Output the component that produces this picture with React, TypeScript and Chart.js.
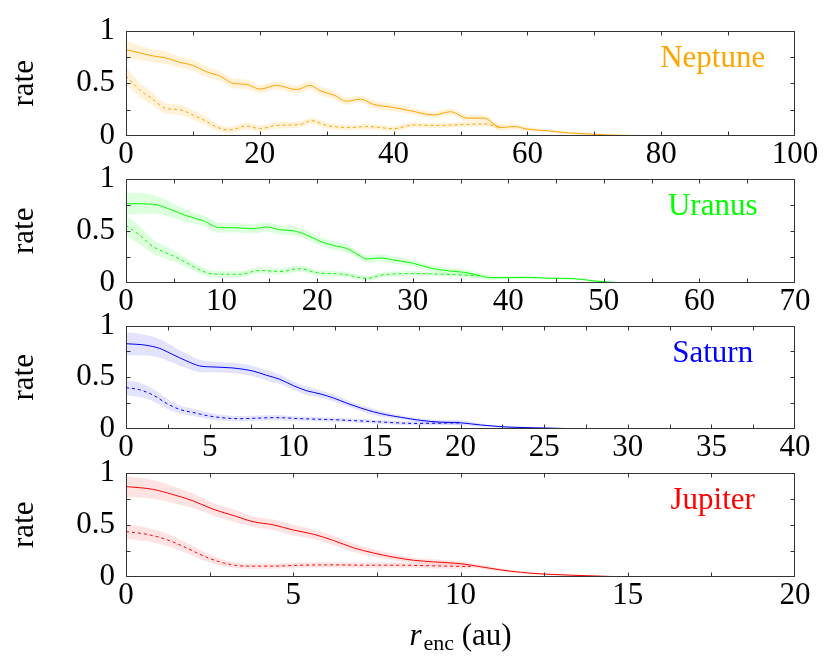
import React, { useEffect, useRef } from 'react';
import { Chart, registerables } from 'chart.js';

Chart.register(...registerables);

const FONT = '"Liberation Serif", "DejaVu Serif", serif';

// ---------- data ----------
const PANEL_NAMES = ['Neptune', 'Uranus', 'Saturn', 'Jupiter'];
const X_MAX = [100, 70, 40, 20];
const X_MAJOR = [20, 10, 5, 5];
const X_MINOR = [10, 5, 2.5, 2.5];
const Y_TICKS = [0, 0.25, 0.5, 0.75, 1];
const Y_LABELS = ['0', '', '0.5', '', '1'];

const NEP_X = [0, 2, 4, 6, 8, 10, 12, 14, 16, 18, 20, 22.5, 25.5, 27.5, 29, 31, 33, 35, 37, 40, 42.5, 46, 48.5, 51, 53.5, 56, 58, 60, 63, 66, 69, 72, 76, 80];
const NEP_SOLID = [0.82, 0.79, 0.76, 0.74, 0.70, 0.67, 0.61, 0.57, 0.50, 0.49, 0.445, 0.48, 0.44, 0.48, 0.43, 0.39, 0.33, 0.35, 0.30, 0.27, 0.24, 0.20, 0.23, 0.17, 0.17, 0.08, 0.09, 0.065, 0.05, 0.03, 0.02, 0.01, 0.005, 0];
const NEP_SOLID_ERR = [0.08, 0.07, 0.06, 0.06, 0.05, 0.05, 0.05, 0.045, 0.045, 0.045, 0.04, 0.04, 0.04, 0.04, 0.04, 0.04, 0.035, 0.035, 0.035, 0.035, 0.03, 0.03, 0.03, 0.03, 0.03, 0.03, 0.025, 0.02, 0.015, 0.012, 0.01, 0.006, 0.004, 0];
const NEP_DASH_X = [0, 2, 4, 6, 8, 10, 12, 13.5, 15.5, 18, 20, 22.5, 26, 27.7, 30, 33.5, 36, 40, 43, 46, 51, 53.5, 56];
const NEP_DASH = [0.57, 0.44, 0.35, 0.26, 0.25, 0.20, 0.14, 0.086, 0.057, 0.095, 0.07, 0.10, 0.11, 0.146, 0.10, 0.08, 0.09, 0.07, 0.105, 0.10, 0.11, 0.115, 0.08];
const NEP_DASH_ERR = [0.08, 0.07, 0.06, 0.05, 0.05, 0.045, 0.04, 0.035, 0.03, 0.03, 0.03, 0.03, 0.03, 0.03, 0.03, 0.025, 0.025, 0.025, 0.025, 0.025, 0.025, 0.025, 0.02];

const URA_X = [0, 2.8, 4.9, 6.3, 8, 9.8, 11.2, 13.3, 14.7, 16.1, 17.5, 18.9, 20.3, 21.7, 23.1, 24.5, 25.2, 26.6, 28, 30, 32, 34, 35.6, 37, 38.1, 40.2, 42, 44.3, 46.8, 48.9, 51.3, 53, 56];
const URA_SOLID = [0.76, 0.755, 0.695, 0.645, 0.60, 0.53, 0.53, 0.52, 0.537, 0.51, 0.50, 0.46, 0.40, 0.36, 0.33, 0.26, 0.23, 0.24, 0.22, 0.19, 0.14, 0.114, 0.10, 0.07, 0.051, 0.051, 0.054, 0.045, 0.042, 0.021, 0.005, 0.002, 0];
const URA_SOLID_ERR = [0.11, 0.09, 0.07, 0.06, 0.05, 0.05, 0.045, 0.045, 0.045, 0.045, 0.045, 0.045, 0.04, 0.04, 0.04, 0.035, 0.035, 0.035, 0.035, 0.03, 0.03, 0.03, 0.03, 0.025, 0.02, 0.015, 0.015, 0.012, 0.01, 0.008, 0.005, 0.003, 0];
const URA_DASH_X = [0, 1.4, 2.8, 4.2, 5.6, 7, 8.4, 9.8, 11.9, 14, 16.1, 18.2, 19.9, 22.7, 25.2, 27, 30.4, 33, 37];
const URA_DASH = [0.55, 0.46, 0.35, 0.29, 0.23, 0.16, 0.10, 0.084, 0.084, 0.12, 0.11, 0.137, 0.10, 0.084, 0.045, 0.08, 0.09, 0.084, 0.07];
const URA_DASH_ERR = [0.1, 0.09, 0.07, 0.06, 0.05, 0.04, 0.035, 0.03, 0.03, 0.03, 0.03, 0.03, 0.03, 0.025, 0.025, 0.025, 0.025, 0.02, 0.02];

const SAT_X = [0, 1.2, 2, 2.8, 3.6, 4.4, 5.2, 6.4, 7.6, 8.4, 9.2, 10, 10.8, 11.6, 12.4, 13.2, 14, 14.8, 15.6, 16.4, 17.6, 18.8, 20, 21.2, 22.3, 23.5, 24.9, 27.3, 32];
const SAT_SOLID = [0.825, 0.81, 0.78, 0.72, 0.66, 0.61, 0.60, 0.59, 0.56, 0.52, 0.48, 0.42, 0.37, 0.34, 0.30, 0.25, 0.205, 0.166, 0.136, 0.114, 0.084, 0.066, 0.06, 0.039, 0.024, 0.015, 0.01, 0.002, 0];
const SAT_SOLID_ERR = [0.11, 0.1, 0.09, 0.08, 0.07, 0.06, 0.05, 0.05, 0.05, 0.05, 0.045, 0.04, 0.04, 0.035, 0.035, 0.03, 0.03, 0.03, 0.025, 0.02, 0.02, 0.02, 0.025, 0.015, 0.01, 0.008, 0.006, 0.002, 0];
const SAT_DASH_X = [0, 0.8, 1.6, 2.4, 3.2, 4, 5.2, 6.8, 9, 10.4, 12.4, 14.4, 17.4, 20];
const SAT_DASH = [0.40, 0.38, 0.33, 0.25, 0.19, 0.16, 0.12, 0.10, 0.11, 0.10, 0.09, 0.075, 0.054, 0.06];
const SAT_DASH_ERR = [0.07, 0.07, 0.06, 0.05, 0.04, 0.035, 0.03, 0.025, 0.025, 0.02, 0.02, 0.02, 0.02, 0.02];

const JUP_X = [0, 0.8, 1.4, 2, 2.6, 3.2, 3.8, 4.4, 5, 5.6, 6.2, 6.8, 7.4, 8, 8.6, 9.2, 10, 10.6, 11.2, 11.8, 12.4, 13, 13.8, 14.6, 15.2, 20];
const JUP_SOLID = [0.866, 0.84, 0.79, 0.73, 0.65, 0.59, 0.53, 0.50, 0.45, 0.41, 0.35, 0.28, 0.23, 0.19, 0.16, 0.145, 0.128, 0.098, 0.068, 0.045, 0.03, 0.021, 0.012, 0.004, 0, 0];
const JUP_SOLID_ERR = [0.1, 0.09, 0.08, 0.07, 0.06, 0.06, 0.05, 0.05, 0.05, 0.045, 0.045, 0.04, 0.035, 0.03, 0.025, 0.025, 0.02, 0.02, 0.015, 0.01, 0.008, 0.006, 0.004, 0.002, 0, 0];
const JUP_DASH_X = [0, 0.6, 1.2, 1.8, 2.4, 3, 3.6, 4.4, 5.2, 6.2, 7.2, 8.2, 9.2, 10.3];
const JUP_DASH = [0.435, 0.41, 0.36, 0.28, 0.19, 0.128, 0.104, 0.104, 0.113, 0.116, 0.113, 0.113, 0.107, 0.10];
const JUP_DASH_ERR = [0.07, 0.065, 0.06, 0.05, 0.04, 0.03, 0.025, 0.025, 0.025, 0.025, 0.025, 0.025, 0.025, 0.02];

const SERIES = [
  { x: NEP_X, solid: NEP_SOLID, solidErr: NEP_SOLID_ERR, dx: NEP_DASH_X, dash: NEP_DASH, dashErr: NEP_DASH_ERR },
  { x: URA_X, solid: URA_SOLID, solidErr: URA_SOLID_ERR, dx: URA_DASH_X, dash: URA_DASH, dashErr: URA_DASH_ERR },
  { x: SAT_X, solid: SAT_SOLID, solidErr: SAT_SOLID_ERR, dx: SAT_DASH_X, dash: SAT_DASH, dashErr: SAT_DASH_ERR },
  { x: JUP_X, solid: JUP_SOLID, solidErr: JUP_SOLID_ERR, dx: JUP_DASH_X, dash: JUP_DASH, dashErr: JUP_DASH_ERR },
];

// ---------- styles / layout ----------
const LINE_COLORS = ['#FFA500', '#00FF00', '#0000FF', '#FF0000'];
const BAND_COLORS = ['rgba(255,165,0,0.15)', 'rgba(0,255,0,0.13)', 'rgba(0,0,255,0.11)', 'rgba(255,0,0,0.11)'];
const PANEL_TOP = [23, 171, 318, 465];
const PANEL_BOTTOM = [136, 283, 429, 577];
const PLOT_LEFT = 126;
const PLOT_RIGHT = 795;
const W = 830;
const H_TOTAL = 672;
const TOP_PAD = 22;
const FONT_SIZE = 31;

const framePlugin = {
  id: 'frameTicks',
  afterDraw(chart: any) {
    const { ctx, chartArea } = chart;
    const { left, right, top, bottom } = chartArea;
    ctx.save();
    ctx.strokeStyle = '#333333';
    ctx.lineWidth = 1;
    const L = Math.round(left) + 0.5;
    const R = Math.round(right) - 0.5;
    const T = Math.round(top) + 0.5;
    const B = Math.round(bottom) - 0.5;
    ctx.strokeRect(L, T, R - L, B - T);
    const len = 4;
    ctx.beginPath();
    const xs = chart.scales.x;
    xs.ticks.forEach((t: any) => {
      const px = Math.round(xs.getPixelForValue(t.value)) + 0.5;
      if (px <= L + 1 || px >= R - 1) return;
      ctx.moveTo(px, B); ctx.lineTo(px, B - len);
      ctx.moveTo(px, T); ctx.lineTo(px, T + len);
    });
    const ys = chart.scales.y;
    ys.ticks.forEach((t: any) => {
      const py = Math.round(ys.getPixelForValue(t.value)) + 0.5;
      if (py <= T + 1 || py >= B - 1) return;
      ctx.moveTo(L, py); ctx.lineTo(L + len, py);
      ctx.moveTo(R, py); ctx.lineTo(R - len, py);
    });
    ctx.stroke();
    ctx.restore();
  },
};

function makeNamePlugin(idx: number) {
  return {
    id: 'panelName' + idx,
    afterDraw(chart: any) {
      const { ctx, chartArea } = chart;
      ctx.save();
      ctx.font = `${FONT_SIZE}px ${FONT}`;
      ctx.fillStyle = LINE_COLORS[idx];
      ctx.textAlign = 'center';
      ctx.textBaseline = 'alphabetic';
      const cx = chartArea.left + 0.877 * (chartArea.right - chartArea.left);
      ctx.fillText(PANEL_NAMES[idx], cx, chartArea.top + 36);
      ctx.restore();
    },
  };
}

function makeXTitlePlugin(canvasTop: number) {
  return {
    id: 'xTitle',
    afterDraw(chart: any) {
      const { ctx, chartArea } = chart;
      ctx.save();
      ctx.fillStyle = '#000';
      ctx.textBaseline = 'alphabetic';
      ctx.textAlign = 'left';
      const mainFont = `${FONT_SIZE}px ${FONT}`;
      const italFont = `italic ${FONT_SIZE}px ${FONT}`;
      const subFont = `22px ${FONT}`;
      ctx.font = italFont;
      const wR = ctx.measureText('r').width;
      ctx.font = subFont;
      const wSub = ctx.measureText('enc').width;
      ctx.font = mainFont;
      const wRest = ctx.measureText(' (au)').width;
      const total = wR + 2 + wSub + wRest;
      const cx = (chartArea.left + chartArea.right) / 2;
      let x = cx - total / 2;
      const base = 645 - canvasTop;
      ctx.font = italFont;
      ctx.fillText('r', x, base);
      x += wR + 2;
      ctx.font = subFont;
      ctx.fillText('enc', x, base + 5);
      x += wSub;
      ctx.font = mainFont;
      ctx.fillText(' (au)', x, base);
      ctx.restore();
    },
  };
}

function Panel({ idx }: { idx: number }) {
  const ref = useRef<HTMLCanvasElement | null>(null);
  const canvasTop = PANEL_TOP[idx] - TOP_PAD;
  const isLast = idx === PANEL_NAMES.length - 1;
  const canvasH = isLast ? H_TOTAL - canvasTop : PANEL_BOTTOM[idx] - canvasTop + 40;
  const xAxisH = canvasH - TOP_PAD - (PANEL_BOTTOM[idx] - PANEL_TOP[idx]);

  useEffect(() => {
    const s = SERIES[idx];
    const pts = (xs: number[], ys: number[]) => xs.map((x, i) => ({ x, y: ys[i] }));
    const upper = (xs: number[], ys: number[], es: number[]) => xs.map((x, i) => ({ x, y: ys[i] + es[i] }));
    const lower = (xs: number[], ys: number[], es: number[]) => xs.map((x, i) => ({ x, y: Math.max(0, ys[i] - es[i]) }));
    const color = LINE_COLORS[idx];
    const band = BAND_COLORS[idx];
    const common = { pointRadius: 0, cubicInterpolationMode: 'monotone' as const };

    const chart = new Chart(ref.current as HTMLCanvasElement, {
      type: 'line',
      data: {
        datasets: [
          { ...common, data: pts(s.x, s.solid), borderColor: color, borderWidth: 1, fill: false },
          { ...common, data: pts(s.dx, s.dash), borderColor: color, borderWidth: 1, borderDash: [3, 3], fill: false },
          { ...common, data: upper(s.x, s.solid, s.solidErr), borderWidth: 0, borderColor: 'transparent', backgroundColor: band, fill: '+1' },
          { ...common, data: lower(s.x, s.solid, s.solidErr), borderWidth: 0, borderColor: 'transparent', fill: false },
          { ...common, data: upper(s.dx, s.dash, s.dashErr), borderWidth: 0, borderColor: 'transparent', backgroundColor: band, fill: '+1' },
          { ...common, data: lower(s.dx, s.dash, s.dashErr), borderWidth: 0, borderColor: 'transparent', fill: false },
        ],
      },
      options: {
        responsive: false,
        animation: false,
        events: [],
        layout: { autoPadding: false, padding: { top: TOP_PAD, left: 0, right: W - PLOT_RIGHT, bottom: 0 } },
        plugins: { legend: { display: false }, tooltip: { enabled: false }, title: { display: false } },
        scales: {
          x: {
            type: 'linear',
            min: 0,
            max: X_MAX[idx],
            grid: { display: false, drawTicks: false },
            border: { display: false },
            ticks: {
              stepSize: X_MINOR[idx],
              autoSkip: false,
              maxRotation: 0,
              padding: 0,
              color: '#000',
              font: { family: FONT, size: FONT_SIZE },
              callback: (v: any) => (Math.abs(v % X_MAJOR[idx]) < 1e-9 ? String(v) : ''),
            },
            afterFit: (scale: any) => { scale.height = xAxisH; },
          },
          y: {
            type: 'linear',
            min: 0,
            max: 1,
            grid: { display: false, drawTicks: false },
            border: { display: false },
            afterBuildTicks: (scale: any) => { scale.ticks = Y_TICKS.map((v) => ({ value: v })); },
            ticks: {
              autoSkip: false,
              padding: 11,
              color: '#000',
              font: { family: FONT, size: FONT_SIZE },
              callback: (v: any) => Y_LABELS[Y_TICKS.indexOf(Number(v))] ?? '',
            },
            title: {
              display: true,
              text: 'rate',
              color: '#000',
              font: { family: FONT, size: FONT_SIZE },
              padding: { top: 6, bottom: 0 },
            },
            afterFit: (scale: any) => { scale.width = PLOT_LEFT; },
          },
        },
      } as any,
      plugins: isLast
        ? [framePlugin, makeNamePlugin(idx), makeXTitlePlugin(canvasTop)]
        : [framePlugin, makeNamePlugin(idx)],
    });
    return () => chart.destroy();
  }, [idx]);

  return (
    <canvas
      ref={ref}
      width={W}
      height={canvasH}
      style={{ position: 'absolute', left: 0, top: canvasTop, width: W, height: canvasH, display: 'block' }}
    />
  );
}

export default function App() {
  return (
    <div style={{ position: 'fixed', left: 0, top: 0, width: W, height: H_TOTAL, background: '#fff' }}>
      {PANEL_NAMES.map((_, i) => (
        <Panel key={i} idx={i} />
      ))}
    </div>
  );
}
